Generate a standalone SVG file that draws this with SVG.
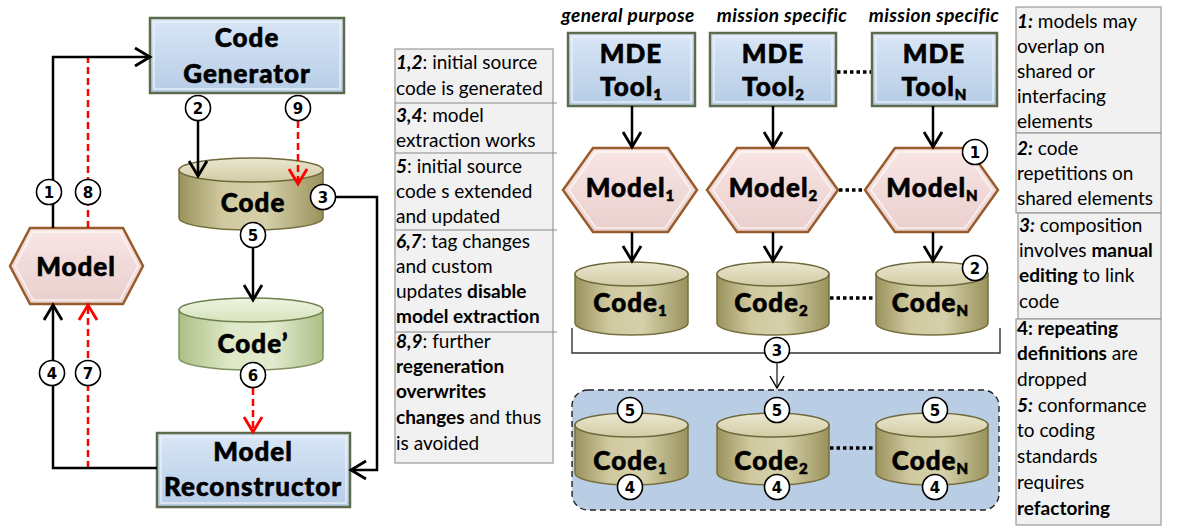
<svg xmlns="http://www.w3.org/2000/svg" width="1177" height="527" viewBox="0 0 1177 527">
  <defs>
    <linearGradient id="gBox" x1="0" y1="0" x2="0" y2="1">
      <stop offset="0" stop-color="#d9e6f6"/>
      <stop offset="1" stop-color="#b6cce6"/>
    </linearGradient>
    <linearGradient id="gHex" x1="0" y1="0" x2="0" y2="1">
      <stop offset="0" stop-color="#f8e6e5"/>
      <stop offset="1" stop-color="#e9cfcd"/>
    </linearGradient>
    <linearGradient id="gCyl" x1="0" y1="0" x2="1" y2="0">
      <stop offset="0" stop-color="#9a925c"/>
      <stop offset="0.3" stop-color="#d0c9a0"/>
      <stop offset="0.6" stop-color="#d6d0aa"/>
      <stop offset="1" stop-color="#9a925c"/>
    </linearGradient>
    <linearGradient id="gCylTop" x1="0" y1="0" x2="0" y2="1">
      <stop offset="0" stop-color="#ebe7d0"/>
      <stop offset="1" stop-color="#d2cba4"/>
    </linearGradient>
    <linearGradient id="gGreen" x1="0" y1="0" x2="1" y2="0">
      <stop offset="0" stop-color="#adbf86"/>
      <stop offset="0.35" stop-color="#dde8c6"/>
      <stop offset="0.65" stop-color="#e2ebcf"/>
      <stop offset="1" stop-color="#adbf86"/>
    </linearGradient>
    <linearGradient id="gGreenTop" x1="0" y1="0" x2="0" y2="1">
      <stop offset="0" stop-color="#eef4e1"/>
      <stop offset="1" stop-color="#d6e3bc"/>
    </linearGradient>
    <marker id="ah" markerUnits="userSpaceOnUse" markerWidth="22" markerHeight="22" viewBox="0 0 22 22" refX="18" refY="11" orient="auto">
      <path d="M3,2 L18,11 L3,20" fill="none" stroke="#000" stroke-width="2.8"/>
    </marker>
    <marker id="ahRed" markerUnits="userSpaceOnUse" markerWidth="22" markerHeight="22" viewBox="0 0 22 22" refX="18" refY="11" orient="auto">
      <path d="M3,2 L18,11 L3,20" fill="none" stroke="#ff0000" stroke-width="2.8"/>
    </marker>
    <marker id="ahThin" markerUnits="userSpaceOnUse" markerWidth="16" markerHeight="16" viewBox="0 0 16 16" refX="14" refY="8" orient="auto">
      <path d="M2,1 L14,8 L2,15" fill="none" stroke="#000" stroke-width="1.4"/>
    </marker>
  </defs>
  <style>
    .box { fill: url(#gBox); stroke: #5d6b4c; stroke-width: 2.5; }
    .boxIn { fill: none; stroke: #eef4fb; stroke-width: 1.5; opacity: 0.8; }
    .hex { fill: url(#gHex); stroke: #9a5b2a; stroke-width: 2.5; }
    .hexIn { fill: none; stroke: #fff; stroke-width: 1.5; opacity: 0.7; }
    .cyl { fill: url(#gCyl); stroke: #76703f; stroke-width: 1.5; }
    .cylTop { fill: url(#gCylTop); stroke: #6e683a; stroke-width: 1.5; }
    .cylG { fill: url(#gGreen); stroke: #809060; stroke-width: 1.5; }
    .cylGTop { fill: url(#gGreenTop); stroke: #6e7f4d; stroke-width: 1.5; }
    .nt { font-family: Lato, "Liberation Sans", sans-serif; font-weight: 900; font-size: 26px; letter-spacing: 1px; text-anchor: middle; fill: #000; stroke: #000; stroke-width: 0.6; }
    .sub { font-size: 15px; letter-spacing: 0; }
    .num circle { fill: #fff; stroke: #000; stroke-width: 1.6; }
    .num text { font-family: "DejaVu Sans", "Liberation Sans", sans-serif; font-weight: bold; font-size: 15px; text-anchor: middle; fill: #000; }
    .ln { fill: none; stroke: #000; stroke-width: 2.5; }
    .red { fill: none; stroke: #ff0000; stroke-width: 2.5; stroke-dasharray: 7 4; }
    .dots { fill: none; stroke: #000; stroke-width: 3.5; stroke-dasharray: 3.5 3; }
    .thin { fill: none; stroke: #333; stroke-width: 1.4; }
    .note { fill: #f1f1f1; stroke: #9a9a9a; stroke-width: 1.2; }
    .sep { stroke: #8a8a8a; stroke-width: 1.2; }
    .tx { font-family: Lato, "Liberation Sans", sans-serif; font-size: 19px; fill: #000; }
    .b { font-weight: bold; }
    .bi { font-weight: bold; font-style: italic; }
    .cap { font-family: Lato, "Liberation Sans", sans-serif; font-size: 19px; letter-spacing: 0.4px; font-weight: bold; font-style: italic; text-anchor: middle; fill: #000; }
  </style>
  <rect width="1177" height="527" fill="#fff"/>

  <!-- ===== left process: generation and reconstruction ===== -->
  <g id="code-generator">
    <rect class="box" x="150" y="18" width="194" height="75"/>
    <rect class="boxIn" x="154" y="22" width="186" height="67"/>
    <text class="nt" x="247" y="47">Code</text>
    <text class="nt" x="247" y="83">Generator</text>
  </g>

  <g id="model">
    <polygon class="hex" points="10,266 30,228 123,228 143,266 123,304 30,304"/>
    <polygon class="hexIn" points="15,266 33,232 120,232 138,266 120,300 33,300"/>
    <text class="nt" x="76" y="276">Model</text>
  </g>

  <g id="code">
    <path class="cyl" d="M179,170 V218 A72,12 0 0 0 323,218 V170 Z"/>
    <ellipse class="cylTop" cx="251" cy="170" rx="72" ry="12"/>
    <text class="nt" x="253" y="212">Code</text>
  </g>

  <g id="code-prime">
    <path class="cylG" d="M179,310 V358 A72,12 0 0 0 323,358 V310 Z"/>
    <ellipse class="cylGTop" cx="251" cy="310" rx="72" ry="12"/>
    <text class="nt" x="253" y="353">Code’</text>
  </g>

  <g id="model-reconstructor">
    <rect class="box" x="157" y="433" width="193" height="74"/>
    <rect class="boxIn" x="161" y="437" width="185" height="66"/>
    <text class="nt" x="253" y="461">Model</text>
    <text class="nt" x="253" y="496">Reconstructor</text>
  </g>

  <g id="connectors-left">
    <path class="red" d="M88,228 V57"/>
    <path class="ln" d="M53,228 V57 H150" marker-end="url(#ah)"/>
    <path class="ln" d="M198,121 V176" marker-end="url(#ah)"/>
    <path class="red" d="M298,121 V184" marker-end="url(#ahRed)"/>
    <path class="ln" d="M336,197 H377 V470 H351" marker-end="url(#ah)"/>
    <path class="ln" d="M253,248 V300" marker-end="url(#ah)"/>
    <path class="red" d="M253,388 V432" marker-end="url(#ahRed)"/>
    <path class="red" d="M88,468 V305" marker-end="url(#ahRed)"/>
    <path class="ln" d="M157,468 H53 V305" marker-end="url(#ah)"/>
  </g>

  <g id="steps-left" class="num">
    <circle cx="49" cy="192" r="12.5"/><text x="49" y="197.5">1</text>
    <circle cx="88" cy="192" r="12.5"/><text x="88" y="197.5">8</text>
    <circle cx="198" cy="108" r="12.5"/><text x="198" y="113.5">2</text>
    <circle cx="298" cy="108" r="12.5"/><text x="298" y="113.5">9</text>
    <circle cx="323" cy="197" r="12.5"/><text x="323" y="202.5">3</text>
    <circle cx="253" cy="235" r="12.5"/><text x="253" y="240.5">5</text>
    <circle cx="253" cy="375" r="12.5"/><text x="253" y="380.5">6</text>
    <circle cx="52" cy="373" r="12.5"/><text x="52" y="378.5">4</text>
    <circle cx="88" cy="373" r="12.5"/><text x="88" y="378.5">7</text>
  </g>

  <!-- ===== notes for the left process ===== -->
  <g id="notes-left">
    <rect class="note" x="395" y="49" width="158" height="414"/>
    <line class="sep" x1="395" y1="103" x2="557" y2="103"/>
    <line class="sep" x1="395" y1="153" x2="557" y2="153"/>
    <line class="sep" x1="395" y1="230" x2="557" y2="230"/>
    <line class="sep" x1="395" y1="332" x2="557" y2="332"/>
    <text class="tx" x="396" y="69"><tspan class="bi">1,2</tspan>: initial source</text>
    <text class="tx" x="396" y="95">code is generated</text>
    <text class="tx" x="396" y="122"><tspan class="bi">3,4</tspan>: model</text>
    <text class="tx" x="396" y="147">extraction works</text>
    <text class="tx" x="396" y="173"><tspan class="bi">5</tspan>: initial source</text>
    <text class="tx" x="396" y="198">code s extended</text>
    <text class="tx" x="396" y="223">and updated</text>
    <text class="tx" x="396" y="248"><tspan class="bi">6,7</tspan>: tag changes</text>
    <text class="tx" x="396" y="273">and custom</text>
    <text class="tx" x="396" y="298">updates <tspan class="b">disable</tspan></text>
    <text class="tx b" x="396" y="323">model extraction</text>
    <text class="tx" x="396" y="348"><tspan class="bi">8,9</tspan>: further</text>
    <text class="tx b" x="396" y="373">regeneration</text>
    <text class="tx b" x="396" y="398">overwrites</text>
    <text class="tx" x="396" y="424"><tspan class="b">changes</tspan> and thus</text>
    <text class="tx" x="396" y="450">is avoided</text>
  </g>

  <!-- ===== right process: composition of several MDE tools ===== -->
  <g id="captions">
    <text class="cap" x="628" y="22">general purpose</text>
    <text class="cap" x="782" y="22">mission specific</text>
    <text class="cap" x="934" y="22">mission specific</text>
  </g>

  <g id="composite-area">
    <rect x="572" y="390" width="427" height="120" rx="16" fill="#b9cde5" stroke="#222" stroke-width="1.4" stroke-dasharray="6 4"/>
  </g>

  <g id="mde-tool-1">
    <rect class="box" x="568" y="33" width="127" height="73"/>
    <rect class="boxIn" x="572" y="37" width="119" height="65"/>
    <text class="nt" x="631" y="63">MDE</text>
    <text class="nt" x="631" y="96">Tool<tspan class="sub" dy="4">1</tspan></text>
  </g>
  <g id="mde-tool-2">
    <rect class="box" x="710" y="33" width="126" height="73"/>
    <rect class="boxIn" x="714" y="37" width="118" height="65"/>
    <text class="nt" x="773" y="63">MDE</text>
    <text class="nt" x="773" y="96">Tool<tspan class="sub" dy="4">2</tspan></text>
  </g>
  <g id="mde-tool-n">
    <rect class="box" x="872" y="33" width="125" height="73"/>
    <rect class="boxIn" x="876" y="37" width="117" height="65"/>
    <text class="nt" x="934" y="63">MDE</text>
    <text class="nt" x="934" y="96">Tool<tspan class="sub" dy="4">N</tspan></text>
  </g>

  <g id="model-1">
    <polygon class="hex" points="563,190 593,148 668,148 697,190 668,232 593,232"/>
    <polygon class="hexIn" points="569,190 596,152 665,152 691,190 665,228 596,228"/>
    <text class="nt" x="630" y="197">Model<tspan class="sub" dy="4">1</tspan></text>
  </g>
  <g id="model-2">
    <polygon class="hex" points="707,190 737,148 808,148 838,190 808,232 737,232"/>
    <polygon class="hexIn" points="713,190 740,152 805,152 832,190 805,228 740,228"/>
    <text class="nt" x="773" y="197">Model<tspan class="sub" dy="4">2</tspan></text>
  </g>
  <g id="model-n">
    <polygon class="hex" points="865,190 895,148 968,148 998,190 968,232 895,232"/>
    <polygon class="hexIn" points="871,190 898,152 965,152 992,190 965,228 898,228"/>
    <text class="nt" x="932" y="197">Model<tspan class="sub" dy="4">N</tspan></text>
  </g>

  <g id="code-1">
    <path class="cyl" d="M575,274 V323 A56.5,12 0 0 0 688,323 V274 Z"/>
    <ellipse class="cylTop" cx="631.5" cy="274" rx="56.5" ry="12"/>
    <text class="nt" x="630" y="312">Code<tspan class="sub" dy="4">1</tspan></text>
  </g>
  <g id="code-2">
    <path class="cyl" d="M717,274 V323 A56,12 0 0 0 829,323 V274 Z"/>
    <ellipse class="cylTop" cx="773" cy="274" rx="56" ry="12"/>
    <text class="nt" x="771" y="312">Code<tspan class="sub" dy="4">2</tspan></text>
  </g>
  <g id="code-n">
    <path class="cyl" d="M876,274 V323 A56,12 0 0 0 988,323 V274 Z"/>
    <ellipse class="cylTop" cx="932" cy="274" rx="56" ry="12"/>
    <text class="nt" x="930" y="312">Code<tspan class="sub" dy="4">N</tspan></text>
  </g>

  <g id="composed-code-1">
    <path class="cyl" d="M575,425 V473 A56.5,12 0 0 0 688,473 V425 Z"/>
    <ellipse class="cylTop" cx="631.5" cy="425" rx="56.5" ry="12"/>
    <text class="nt" x="630" y="470">Code<tspan class="sub" dy="4">1</tspan></text>
  </g>
  <g id="composed-code-2">
    <path class="cyl" d="M717,425 V473 A56,12 0 0 0 829,473 V425 Z"/>
    <ellipse class="cylTop" cx="773" cy="425" rx="56" ry="12"/>
    <text class="nt" x="771" y="470">Code<tspan class="sub" dy="4">2</tspan></text>
  </g>
  <g id="composed-code-n">
    <path class="cyl" d="M876,425 V473 A56,12 0 0 0 988,473 V425 Z"/>
    <ellipse class="cylTop" cx="932" cy="425" rx="56" ry="12"/>
    <text class="nt" x="930" y="470">Code<tspan class="sub" dy="4">N</tspan></text>
  </g>

  <g id="connectors-right">
    <path class="ln" d="M632,106 V147" marker-end="url(#ah)"/>
    <path class="ln" d="M773,106 V147" marker-end="url(#ah)"/>
    <path class="ln" d="M933,106 V147" marker-end="url(#ah)"/>
    <path class="ln" d="M632,232 V261" marker-end="url(#ah)"/>
    <path class="ln" d="M773,232 V261" marker-end="url(#ah)"/>
    <path class="ln" d="M933,232 V261" marker-end="url(#ah)"/>
    <path class="dots" d="M837,72 H871"/>
    <path class="dots" d="M839,190 H864"/>
    <path class="dots" d="M830,298 H875"/>
    <path class="dots" d="M830,448 H875"/>
    <path class="thin" d="M572,328 V353 H1000 V328"/>
    <path class="thin" d="M777,363 V388" marker-end="url(#ahThin)"/>
  </g>

  <g id="steps-right" class="num">
    <circle cx="975" cy="152" r="12.5"/><text x="975" y="157.5">1</text>
    <circle cx="975" cy="268" r="12.5"/><text x="975" y="273.5">2</text>
    <circle cx="777" cy="350" r="12.5"/><text x="777" y="355.5">3</text>
    <circle cx="630" cy="410" r="12.5"/><text x="630" y="415.5">5</text>
    <circle cx="777" cy="410" r="12.5"/><text x="777" y="415.5">5</text>
    <circle cx="935" cy="410" r="12.5"/><text x="935" y="415.5">5</text>
    <circle cx="630" cy="487" r="12.5"/><text x="630" y="492.5">4</text>
    <circle cx="777" cy="487" r="12.5"/><text x="777" y="492.5">4</text>
    <circle cx="935" cy="487" r="12.5"/><text x="935" y="492.5">4</text>
  </g>

  <!-- ===== notes for the right process ===== -->
  <g id="notes-right">
    <rect class="note" x="1016" y="7" width="145" height="126"/>
    <rect class="note" x="1016" y="133" width="145" height="80"/>
    <rect class="note" x="1018" y="213" width="143" height="106"/>
    <rect class="note" x="1016" y="319" width="145" height="206"/>
    <text class="tx" x="1017" y="28"><tspan class="bi">1:</tspan> models may</text>
    <text class="tx" x="1017" y="53">overlap on</text>
    <text class="tx" x="1017" y="78">shared or</text>
    <text class="tx" x="1017" y="103">interfacing</text>
    <text class="tx" x="1017" y="128">elements</text>
    <text class="tx" x="1017" y="155"><tspan class="bi">2:</tspan> code</text>
    <text class="tx" x="1017" y="180">repetitions on</text>
    <text class="tx" x="1017" y="205">shared elements</text>
    <text class="tx" x="1019" y="232"><tspan class="bi">3:</tspan> composition</text>
    <text class="tx" x="1019" y="257">involves <tspan class="b">manual</tspan></text>
    <text class="tx" x="1019" y="282"><tspan class="b">editing</tspan> to link</text>
    <text class="tx" x="1019" y="308">code</text>
    <text class="tx b" x="1017" y="335">4: repeating</text>
    <text class="tx" x="1017" y="360"><tspan class="b">definitions</tspan> are</text>
    <text class="tx" x="1017" y="386">dropped</text>
    <text class="tx" x="1017" y="412"><tspan class="bi">5:</tspan> conformance</text>
    <text class="tx" x="1017" y="437">to coding</text>
    <text class="tx" x="1017" y="463">standards</text>
    <text class="tx" x="1017" y="489">requires</text>
    <text class="tx b" x="1017" y="515">refactoring</text>
  </g>
</svg>
